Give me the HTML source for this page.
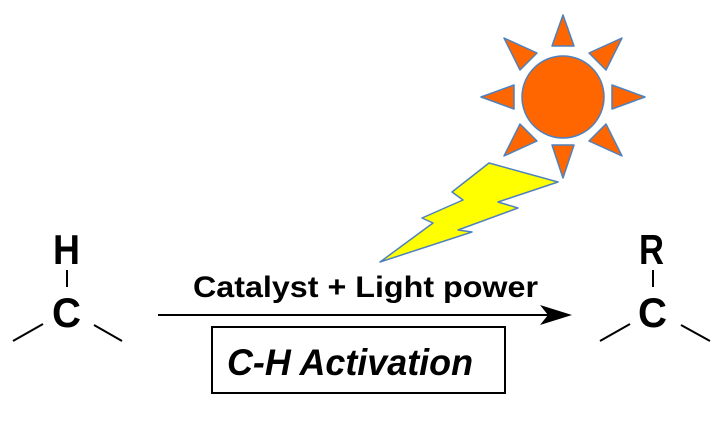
<!DOCTYPE html>
<html><head><meta charset="utf-8"><style>html,body{margin:0;padding:0;background:#fff}</style></head>
<body>
<svg width="720" height="420" viewBox="0 0 720 420" xmlns="http://www.w3.org/2000/svg">
<g fill="#ff6600" stroke="#4f81bd" stroke-width="1.5" stroke-linejoin="round">
<circle cx="563" cy="97" r="41"/>
<polygon points="563,15 552,46 574,46"/>
<polygon points="563,178 552,145 574,145"/>
<polygon points="481,97 514,85 514,109"/>
<polygon points="645,97 612,85 612,109"/>
<polygon points="504,38 537,53 520,70"/>
<polygon points="622,38 589,53 606,70"/>
<polygon points="622,156 606,124 589,141"/>
<polygon points="504,156 520,124 537,141"/>
</g>
<polygon points="489,163 558,182 498,202 518,208 458,230 472,232 380,262 433,223 422,218 463,200 452,192" fill="#ffff00" stroke="#4f81bd" stroke-width="1.5" stroke-linejoin="round"/>
<g font-family="Liberation Sans, sans-serif" font-weight="bold" font-size="42" fill="#000">
<text x="53" y="264" textLength="27" lengthAdjust="spacingAndGlyphs">H</text>
<text x="52" y="327" textLength="29" lengthAdjust="spacingAndGlyphs">C</text>
<text x="639" y="264" textLength="25" lengthAdjust="spacingAndGlyphs">R</text>
<text x="638" y="327" textLength="29" lengthAdjust="spacingAndGlyphs">C</text>
</g>
<g stroke="#000" stroke-width="2">
<line x1="67" y1="270" x2="67" y2="287"/>
<line x1="653" y1="270" x2="653" y2="287"/>
<line x1="13" y1="341" x2="43" y2="324"/>
<line x1="94" y1="325" x2="122" y2="341"/>
<line x1="600" y1="341" x2="630" y2="324"/>
<line x1="681" y1="325" x2="710" y2="341"/>
<line x1="158" y1="315" x2="548" y2="315"/>
</g>
<polygon points="572,315 540,305 548,315 540,325" fill="#000"/>
<text x="193" y="297" font-family="Liberation Sans, sans-serif" font-weight="bold" font-size="30" textLength="345" lengthAdjust="spacingAndGlyphs">Catalyst + Light power</text>
<rect x="212" y="327" width="293" height="66" fill="none" stroke="#000" stroke-width="2"/>
<text x="227" y="375" font-family="Liberation Sans, sans-serif" font-weight="bold" font-style="italic" font-size="37" textLength="246" lengthAdjust="spacingAndGlyphs">C-H Activation</text>
</svg>
</body></html>
